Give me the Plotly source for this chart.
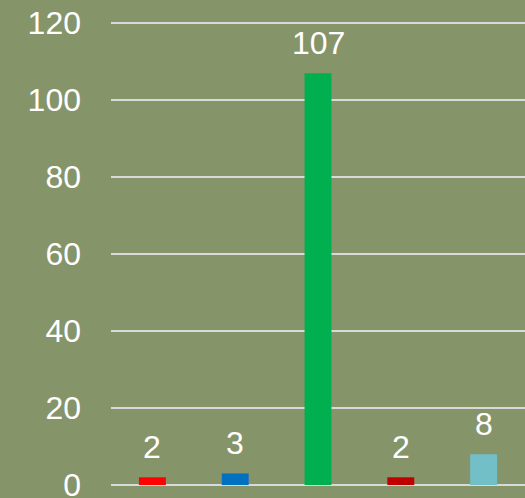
import plotly.graph_objects as go

categories = ["A", "B", "C", "D", "E"]
values = [2, 3, 107, 2, 8]
colors = ["#FF0000", "#0070C0", "#00B050", "#C00000", "#72BFC7"]
tick_vals = [0, 20, 40, 60, 80, 100, 120]

bg = "#86946A"
fig = go.Figure()
fig.add_trace(go.Bar(x=categories, y=values, marker=dict(color=colors, line=dict(width=0)),
                     hoverinfo="skip"))
for c, v in zip(categories, values):
    fig.add_annotation(x=c, y=v, text=str(v), showarrow=False, yanchor="bottom",
                       yshift=10, font=dict(family="Liberation Sans, Arial", size=32, color="white"))

fig.update_layout(
    width=525, height=498,
    margin=dict(l=111, r=0, t=22, b=13, autoexpand=False),
    paper_bgcolor=bg, plot_bgcolor=bg,
    bargap=0.675, showlegend=False,
    font=dict(family="Liberation Sans, Arial", size=32, color="white"),
    xaxis=dict(showticklabels=False, showgrid=False, zeroline=False, showline=False, ticks="",
               automargin=False),
    yaxis=dict(range=[0, 120.3], tickvals=tick_vals, showgrid=True, gridcolor="#D9D9D9",
               gridwidth=2, zeroline=True, zerolinecolor="#D9D9D9", zerolinewidth=2,
               showline=False, ticks="", ticklabelstandoff=29, ticklabeloverflow="allow",
               automargin=False, tickfont=dict(size=32, color="white")),
)
fig.write_html("out.html", config={"displayModeBar": False, "staticPlot": True},
               post_script="document.body.style.margin='0';document.body.style.overflow='hidden';")
